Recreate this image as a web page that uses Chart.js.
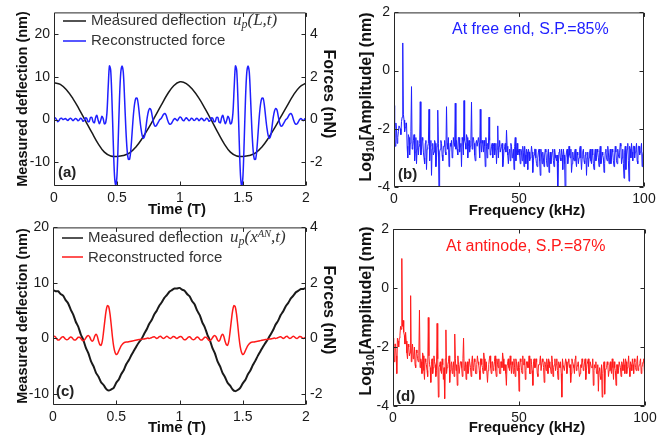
<!DOCTYPE html>
<html><head><meta charset="utf-8">
<script src="https://cdn.jsdelivr.net/npm/chart.js@4"></script>
<style>
body{margin:0;background:#fff}
#wrap{position:relative;width:667px;height:442px;overflow:hidden;background:#fff}
canvas{position:absolute}
</style></head><body>
<div id="wrap">
<canvas id="ca" width="340" height="222" style="left:0;top:0"></canvas>
<canvas id="cb" width="327" height="222" style="left:340px;top:0"></canvas>
<canvas id="cc" width="340" height="227" style="left:0;top:215px"></canvas>
<canvas id="cd" width="327" height="227" style="left:340px;top:215px"></canvas>
</div>
<script>
// ---------- DATA ----------
const timeFine = [
0,0.01,0.02,0.03,0.04,0.05,0.06,0.07,0.08,0.09,
0.1,0.11,0.12,0.13,0.14,0.15,0.16,0.17,0.18,0.19,
0.2,0.21,0.22,0.23,0.24,0.25,0.26,0.27,0.28,0.29,
0.3,0.31,0.32,0.33,0.34,0.35,0.36,0.37,0.38,0.39,
0.4,0.41,0.42,0.43,0.44,0.45,0.46,0.47,0.48,0.49,
0.5,0.51,0.52,0.53,0.54,0.55,0.56,0.57,0.58,0.59,
0.6,0.61,0.62,0.63,0.64,0.65,0.66,0.67,0.68,0.69,
0.7,0.71,0.72,0.73,0.74,0.75,0.76,0.77,0.78,0.79,
0.8,0.81,0.82,0.83,0.84,0.85,0.86,0.87,0.88,0.89,
0.9,0.91,0.92,0.93,0.94,0.95,0.96,0.97,0.98,0.99,
1,1.01,1.02,1.03,1.04,1.05,1.06,1.07,1.08,1.09,
1.1,1.11,1.12,1.13,1.14,1.15,1.16,1.17,1.18,1.19,
1.2,1.21,1.22,1.23,1.24,1.25,1.26,1.27,1.28,1.29,
1.3,1.31,1.32,1.33,1.34,1.35,1.36,1.37,1.38,1.39,
1.4,1.41,1.42,1.43,1.44,1.45,1.46,1.47,1.48,1.49,
1.5,1.51,1.52,1.53,1.54,1.55,1.56,1.57,1.58,1.59,
1.6,1.61,1.62,1.63,1.64,1.65,1.66,1.67,1.68,1.69,
1.7,1.71,1.72,1.73,1.74,1.75,1.76,1.77,1.78,1.79,
1.8,1.81,1.82,1.83,1.84,1.85,1.86,1.87,1.88,1.89,
1.9,1.91,1.92,1.93,1.94,1.95,1.96,1.97,1.98,1.99,
2];
const timeMid = [
0,0.02,0.04,0.06,0.08,0.1,0.12,0.14,0.16,0.18,
0.2,0.22,0.24,0.26,0.28,0.3,0.32,0.34,0.36,0.38,
0.4,0.42,0.44,0.46,0.48,0.5,0.52,0.54,0.56,0.58,
0.6,0.62,0.64,0.66,0.68,0.7,0.72,0.74,0.76,0.78,
0.8,0.82,0.84,0.86,0.88,0.9,0.92,0.94,0.96,0.98,
1,1.02,1.04,1.06,1.08,1.1,1.12,1.14,1.16,1.18,
1.2,1.22,1.24,1.26,1.28,1.3,1.32,1.34,1.36,1.38,
1.4,1.42,1.44,1.46,1.48,1.5,1.52,1.54,1.56,1.58,
1.6,1.62,1.64,1.66,1.68,1.7,1.72,1.74,1.76,1.78,
1.8,1.82,1.84,1.86,1.88,1.9,1.92,1.94,1.96,1.98,
2];
const timeCoarse = [
0,0.05,0.1,0.15,0.2,0.25,0.3,0.35,0.4,0.45,
0.5,0.55,0.6,0.65,0.7,0.75,0.8,0.85,0.9,0.95,
1,1.05,1.1,1.15,1.2,1.25,1.3,1.35,1.4,1.45,
1.5,1.55,1.6,1.65,1.7,1.75,1.8,1.85,1.9,1.95,
2];
const freqKHz = [
0,0.5,1,1.5,2,2.5,3,3.5,4,4.5,
5,5.5,6,6.5,7,7.5,8,8.5,9,9.5,
10,10.5,11,11.5,12,12.5,13,13.5,14,14.5,
15,15.5,16,16.5,17,17.5,18,18.5,19,19.5,
20,20.5,21,21.5,22,22.5,23,23.5,24,24.5,
25,25.5,26,26.5,27,27.5,28,28.5,29,29.5,
30,30.5,31,31.5,32,32.5,33,33.5,34,34.5,
35,35.5,36,36.5,37,37.5,38,38.5,39,39.5,
40,40.5,41,41.5,42,42.5,43,43.5,44,44.5,
45,45.5,46,46.5,47,47.5,48,48.5,49,49.5,
50,50.5,51,51.5,52,52.5,53,53.5,54,54.5,
55,55.5,56,56.5,57,57.5,58,58.5,59,59.5,
60,60.5,61,61.5,62,62.5,63,63.5,64,64.5,
65,65.5,66,66.5,67,67.5,68,68.5,69,69.5,
70,70.5,71,71.5,72,72.5,73,73.5,74,74.5,
75,75.5,76,76.5,77,77.5,78,78.5,79,79.5,
80,80.5,81,81.5,82,82.5,83,83.5,84,84.5,
85,85.5,86,86.5,87,87.5,88,88.5,89,89.5,
90,90.5,91,91.5,92,92.5,93,93.5,94,94.5,
95,95.5,96,96.5,97,97.5,98,98.5,99,99.5,
100];
const freqKHzMid = [
0.25,0.75,1.25,1.75,2.25,2.75,3.25,3.75,4.25,4.75,
5.25,5.75,6.25,6.75,7.25,7.75,8.25,8.75,9.25,9.75,
10.25,10.75,11.25,11.75,12.25,12.75,13.25,13.75,14.25,14.75,
15.25,15.75,16.25,16.75,17.25,17.75,18.25,18.75,19.25,19.75,
20.25,20.75,21.25,21.75,22.25,22.75,23.25,23.75,24.25,24.75,
25.25,25.75,26.25,26.75,27.25,27.75,28.25,28.75,29.25,29.75,
30.25,30.75,31.25,31.75,32.25,32.75,33.25,33.75,34.25,34.75,
35.25,35.75,36.25,36.75,37.25,37.75,38.25,38.75,39.25,39.75,
40.25,40.75,41.25,41.75,42.25,42.75,43.25,43.75,44.25,44.75,
45.25,45.75,46.25,46.75,47.25,47.75,48.25,48.75,49.25,49.75,
50.25,50.75,51.25,51.75,52.25,52.75,53.25,53.75,54.25,54.75,
55.25,55.75,56.25,56.75,57.25,57.75,58.25,58.75,59.25,59.75,
60.25,60.75,61.25,61.75,62.25,62.75,63.25,63.75,64.25,64.75,
65.25,65.75,66.25,66.75,67.25,67.75,68.25,68.75,69.25,69.75,
70.25,70.75,71.25,71.75,72.25,72.75,73.25,73.75,74.25,74.75,
75.25,75.75,76.25,76.75,77.25,77.75,78.25,78.75,79.25,79.75,
80.25,80.75,81.25,81.75,82.25,82.75,83.25,83.75,84.25,84.75,
85.25,85.75,86.25,86.75,87.25,87.75,88.25,88.75,89.25,89.75,
90.25,90.75,91.25,91.75,92.25,92.75,93.25,93.75,94.25,94.75,
95.25,95.75,96.25,96.75,97.25,97.75,98.25,98.75,99.25,99.75];

// (a) deflection at free end (nm) on timeCoarse
const deflectionFreeEnd = [
8.6,8.2,6.9,4.9,2.4,-0.3,-3,-5.6,-7.6,-8.5,
-8.6,-8.4,-7.8,-6.4,-4.4,-2,0.6,3.3,5.9,7.9,
8.8,8.4,7,5,2.5,-0.2,-3,-5.6,-7.6,-8.5,
-8.6,-8.4,-7.8,-6.4,-4.4,-2,0.6,3.2,5.7,7.6,
8.5];
// (a) reconstructed force (nN) on timeFine
const forceFreeEnd = [
0.05,0.08,0,-0.1,-0.05,0.05,0.06,0,0.02,0.05,
0,-0.04,0.02,0.06,0.02,-0.05,0,0.05,0.02,-0.06,
-0.02,0.06,0.03,-0.08,-0.04,0.08,0.05,-0.1,-0.08,0.1,
0.1,-0.1,-0.15,0.08,0.2,-0.02,-0.2,-0.05,0.15,0.05,
-0.2,-0.15,0.3,1.5,2.5,2.3,0.9,-1,-2.6,-3.1,
-2.6,-0.9,1,2.2,2.5,2.2,1,-0.4,-1.4,-1.85,
-1.85,-1.4,-0.6,0.2,0.75,1,1,0.65,0.1,-0.4,
-0.75,-0.88,-0.75,-0.35,0.1,0.4,0.52,0.45,0.15,-0.15,
-0.3,-0.3,-0.2,-0.1,0,0.05,0.15,0.25,0.28,0.2,
0,-0.15,-0.22,-0.2,-0.1,0,0.05,0,-0.05,0.05,
0.12,0.08,-0.02,-0.06,0.02,0.08,0.03,-0.05,-0.02,0.06,
0.04,-0.04,-0.02,0.05,0.04,-0.05,0,0.06,0.02,-0.06,
-0.02,0.06,0.03,-0.08,-0.04,0.08,0.05,-0.1,-0.08,0.1,
0.1,-0.12,-0.15,0.08,0.2,-0.02,-0.2,-0.05,0.15,0.05,
-0.2,-0.15,0.3,1.5,2.5,2.3,0.9,-1,-2.6,-3.15,
-2.6,-0.9,1,2.2,2.5,2.2,1,-0.4,-1.4,-1.85,
-1.85,-1.4,-0.6,0.2,0.75,1,1,0.65,0.1,-0.4,
-0.75,-0.88,-0.75,-0.35,0.1,0.4,0.52,0.45,0.15,-0.15,
-0.3,-0.3,-0.2,-0.1,0,0.05,0.15,0.25,0.28,0.2,
0,-0.15,-0.22,-0.2,-0.1,0,0.05,0,-0.05,0.03,
0.05];
// (c) deflection at antinode (nm) on timeMid
const deflectionAntinode = [
8.7,8.5,8.5,8,7.7,6.9,6.3,5.2,4.3,3,
2.1,0.7,-0.3,-1.7,-2.7,-4.1,-5,-6.2,-6.9,-7.9,
-8.4,-9.1,-9.4,-9.2,-8.9,-8,-7.4,-6.4,-5.7,-4.6,
-3.9,-3,-2.2,-1.4,-0.7,-0.1,0.8,1.6,2.6,3.3,
4.3,5,5.9,6.5,7.3,7.8,8.4,8.7,9,9,
9.1,8.8,8.6,8,7.6,6.7,6.1,5,4.2,2.9,
2,0.7,-0.3,-1.7,-2.7,-4.1,-5,-6.2,-7,-8,
-8.5,-9.2,-9.5,-9.3,-8.9,-8.1,-7.5,-6.5,-5.8,-4.8,
-4,-3.1,-2.3,-1.5,-0.8,-0.1,0.7,1.5,2.5,3.2,
4.2,4.9,5.8,6.4,7.2,7.7,8.3,8.6,8.9,8.9,
9.1];
// (c) reconstructed force (nN) on timeFine
const forceAntinode = [
0.05,0.08,0.05,-0.02,-0.06,-0.05,0,0.05,0.06,0.02,
-0.03,-0.05,-0.03,0.02,0.05,0.03,-0.03,-0.06,-0.05,0,
0.04,0.04,0,-0.06,-0.08,-0.05,0.02,0.08,0.1,0.05,
-0.05,-0.1,-0.05,0.08,0.15,0.08,-0.1,-0.22,-0.25,-0.1,
0.25,0.65,1,1.18,1.15,0.9,0.5,0.05,-0.3,-0.5,
-0.58,-0.55,-0.45,-0.35,-0.26,-0.2,-0.16,-0.14,-0.13,-0.13,
-0.12,-0.11,-0.1,-0.09,-0.08,-0.07,-0.06,-0.05,-0.04,-0.04,
-0.03,-0.02,-0.02,-0.01,0,0.01,0,0.01,0.03,0.05,
0.06,0.03,0,0.02,0.06,0.08,0.04,0,0.01,0.05,
0.08,0.05,0.01,0,0.03,0.07,0.06,0.02,0,0.03,
0.06,0.07,0.04,-0.02,-0.05,-0.04,0,0.05,0.06,0.02,
-0.03,-0.05,-0.03,0.02,0.05,0.03,-0.03,-0.06,-0.05,0,
0.04,0.04,0,-0.06,-0.08,-0.05,0.02,0.08,0.1,0.05,
-0.05,-0.1,-0.05,0.08,0.15,0.08,-0.1,-0.22,-0.25,-0.1,
0.25,0.65,1,1.18,1.15,0.9,0.5,0.05,-0.3,-0.5,
-0.58,-0.55,-0.45,-0.35,-0.26,-0.2,-0.16,-0.14,-0.13,-0.13,
-0.12,-0.11,-0.1,-0.09,-0.08,-0.07,-0.06,-0.05,-0.04,-0.04,
-0.03,-0.02,-0.02,-0.01,0,0.01,0,0.01,0.03,0.05,
0.06,0.03,0,0.02,0.06,0.08,0.04,0,0.01,0.05,
0.08,0.05,0.01,0,0.03,0.07,0.06,0.02,0,0.03,
0.04];
// (b) log10 amplitude spectrum at free end, on freqKHz and freqKHzMid
const logAmpFreeEnd = [
-1.2,-2.6,-2,-2.3,-1.9,-2,-1.75,0.95,-1.7,-1.95,
-1.8,-3,-2.3,-2.5,-0.55,-2.6,-2.2,-2.8,-3.2,-2.4,
-2.6,-1.07,-2.7,-2.4,-3,-2.5,-3.4,-2.6,-1.33,-2.6,
-3.6,-2.5,-2.8,-2.5,-3,-1.36,-4.3,-2.7,-2.5,-3.1,
-2.6,-2.8,-1.24,-2.7,-3.3,-2.5,-2.4,-2.9,-2.5,-1.12,
-2.4,-2.9,-2.3,-2.6,-3.3,-2.4,-1.03,-2.5,-2.2,-3,
-2.4,-2.6,-1.08,-2.3,-2.5,-3.1,-2.4,-2.6,-2.5,-1.33,
-2.8,-2.5,-2.4,-3.3,-2.6,-2.5,-1.6,-2.9,-2.6,-3,
-2.5,-2.7,-3.2,-1.9,-2.6,-2.8,-2.6,-3.3,-2.7,-2.5,
-2.05,-2.9,-2.8,-3.1,-2.6,-2.9,-3.4,-2.3,-2.8,-2.9,
-2.7,-3.2,-2.8,-2.6,-3.3,-2.9,-2.7,-3.4,-2.8,-3,
-2.6,-3.5,-2.9,-2.7,-3.2,-3,-2.7,-3.6,-2.9,-2.8,
-3.3,-2.7,-3.1,-2.9,-3.5,-2.8,-3,-2.7,-3.3,-2.9,
-3.1,-4.3,-2.8,-3,-2.7,-3.4,-2.9,-4.3,-2.8,-3.2,
-2.6,-3,-3.5,-2.8,-3.1,-2.7,-3.3,-2.9,-3,-2.6,
-3.4,-2.8,-3.1,-2.9,-3.6,-2.8,-3,-2.7,-3.2,-2.9,
-3.4,-2.7,-3,-2.8,-3.3,-2.6,-3.1,-2.9,-3.5,-2.8,
-3,-2.6,-3.2,-2.7,-3,-2.8,-3.3,-2.6,-3.1,-2.7,
-3,-2.5,-3.2,-2.7,-3.7,-2.6,-2.9,-2.5,-3.8,-2.7,
-2.5,-3.1,-2.6,-2.8,-2.5,-3.2,-2.6,-2.8,-2.5,-2.9,
-3.6];
const logAmpFreeEndMid = [
-2.3,-1.8,-2.5,-2.1,-1.9,-2.2,-1.6,-1.5,-2.1,-1.8,
-2.6,-2.2,-2.9,-2.1,-2.7,-2.4,-3.1,-2.3,-2.7,-2.9,
-2.5,-2.9,-2.3,-2.8,-3.2,-2.4,-2.7,-2.5,-3.1,-2.4,
-2.7,-2.9,-2.4,-3.3,-2.6,-2.5,-2.8,-2.4,-2.9,-2.6,
-2.4,-2.9,-2.5,-2.3,-2.8,-2.6,-3,-2.3,-2.6,-2.7,
-2.7,-2.3,-2.8,-2.5,-2.3,-2.9,-2.4,-2.7,-2.3,-2.6,
-2.8,-2.4,-2.7,-2.3,-2.9,-2.5,-2.6,-2.3,-3,-2.5,
-2.4,-2.8,-2.6,-2.3,-3,-2.7,-2.4,-2.8,-2.5,-2.6,
-2.9,-2.5,-2.7,-3,-2.4,-2.8,-2.5,-3.1,-2.6,-2.8,
-2.6,-3.2,-2.7,-2.5,-3,-2.7,-2.6,-3.1,-2.5,-2.8,
-2.9,-2.7,-3.1,-2.8,-2.6,-3.2,-2.8,-2.7,-3.1,-2.9,
-2.8,-3.1,-2.7,-3,-3.3,-2.8,-3.1,-2.7,-3.2,-3,
-2.9,-2.8,-3.3,-2.7,-3,-3.2,-2.8,-3.1,-2.7,-3,
-2.9,-3.2,-2.7,-3.1,-2.9,-2.7,-3.2,-3,-2.7,-3,
-2.9,-2.7,-3.2,-3,-2.8,-3.1,-2.8,-3.2,-2.7,-3,
-3,-2.7,-3.2,-2.8,-3,-3.3,-2.8,-3.1,-2.7,-3.2,
-2.9,-3.1,-2.7,-3,-2.8,-3.2,-2.8,-3,-3.2,-2.7,
-3.1,-2.8,-3,-3.2,-2.7,-3.1,-2.9,-2.8,-3.2,-2.9,
-2.8,-2.6,-3,-3.2,-2.8,-3.4,-2.7,-3.1,-2.6,-3,
-2.8,-2.6,-3,-2.7,-3.1,-2.6,-2.9,-2.7,-3.3,-2.8];
// (d) log10 amplitude spectrum at antinode, on freqKHz and freqKHzMid
const logAmpAntinode = [
-1.7,-2.5,-1.9,-2.9,-1.8,-1.7,-1.3,1,-1.1,-1.6,
-1.5,-2.2,-1.9,-2.3,-0.26,-2.1,-2.4,-2,-2.7,-2.2,
-2.5,-0.75,-2.4,-2.9,-2.3,-3.1,-2.5,-2.8,-1,-2.6,
-3.2,-2.4,-2.7,-2.5,-3,-1.2,-3.7,-2.6,-2.8,-2.4,
-3.1,-3.75,-1.42,-2.7,-2.5,-3.2,-2.6,-2.9,-2.5,-1.56,
-2.8,-3.3,-2.6,-2.9,-2.5,-3,-1.7,-2.7,-3.1,-2.5,
-2.8,-2.4,-3,-2.3,-2.7,-2.5,-2.9,-2.3,-2.6,-3.1,
-2.4,-2.7,-2.2,-2.8,-2.5,-3.2,-2.6,-2.3,-2.9,-2.5,
-2.7,-2.3,-3,-2.6,-2.4,-2.9,-2.5,-2.2,-2.8,-2.6,
-3.3,-2.5,-2.7,-2.3,-2.9,-2.6,-2.4,-3,-2.5,-2.7,
-3.5,-2.4,-2.8,-2.3,-2.6,-3.1,-2.5,-2.7,-2.3,-2.9,
-2.6,-3.3,-2.4,-2.7,-2.5,-3,-2.6,-2.3,-2.8,-2.5,
-3.2,-2.6,-2.4,-2.9,-2.5,-2.7,-2.3,-3,-2.6,-2.8,
-2.4,-3.1,-2.6,-2.5,-3.7,-2.6,-2.8,-2.4,-2.9,-2.5,
-2.7,-3.2,-2.4,-2.6,-2.9,-2.3,-2.7,-2.5,-3,-2.6,
-2.4,-2.8,-2.5,-3.1,-2.6,-2.4,-2.9,-2.5,-2.7,-3.3,
-2.6,-2.5,-2.9,-3.5,-2.7,-3.1,-3.7,-2.6,-3.6,-2.8,
-2.5,-3,-2.6,-2.8,-2.4,-3.1,-2.7,-3.3,-2.6,-2.8,
-2.5,-3,-2.6,-2.4,-2.9,-2.5,-2.7,-2.3,-3,-2.6,
-2.4,-2.9,-2.5,-2.8,-2.3,-2.7,-2.5,-2.9,-2.6,-2.4,
-3];
const logAmpAntinodeMid = [
-2.1,-1.9,-2.3,-1.7,-2,-1.6,-1.4,-1.3,-1.5,-1.9,
-1.8,-2.4,-2,-2.2,-2.5,-1.9,-2.3,-2.6,-2.1,-2.4,
-2.3,-2.7,-2.5,-2.2,-2.8,-2.4,-2.6,-3,-2.3,-2.7,
-2.5,-2.9,-2.3,-2.6,-2.8,-2.4,-2.7,-2.5,-2.9,-2.6,
-2.7,-2.4,-2.9,-2.6,-2.3,-2.8,-2.5,-2.7,-3,-2.4,
-2.6,-2.3,-2.9,-2.5,-2.7,-2.4,-2.8,-2.5,-2.6,-2.9,
-2.4,-2.7,-2.5,-2.8,-2.4,-2.9,-2.6,-2.5,-2.8,-2.4,
-2.6,-2.9,-2.4,-2.7,-2.5,-2.8,-2.4,-2.7,-2.5,-2.8,
-2.5,-2.8,-2.4,-2.7,-2.9,-2.5,-2.7,-2.4,-2.6,-2.9,
-2.6,-2.4,-2.8,-2.6,-2.5,-2.9,-2.7,-2.4,-2.8,-2.5,
-2.7,-2.5,-2.9,-2.6,-2.4,-2.8,-2.5,-2.7,-2.9,-2.4,
-2.8,-2.5,-2.7,-2.4,-2.9,-2.6,-2.5,-2.8,-2.4,-2.7,
-2.5,-2.8,-2.6,-2.4,-2.7,-2.9,-2.5,-2.7,-2.4,-2.6,
-2.8,-2.5,-2.7,-2.9,-2.4,-2.6,-2.8,-2.5,-2.7,-2.4,
-2.6,-2.9,-2.5,-2.7,-2.4,-2.8,-2.6,-2.5,-2.9,-2.7,
-2.5,-2.7,-2.4,-2.8,-2.6,-2.9,-2.5,-2.7,-2.4,-2.8,
-2.7,-2.9,-2.6,-2.8,-3,-2.6,-2.9,-2.5,-2.8,-2.7,
-2.6,-2.8,-2.5,-2.9,-2.7,-2.5,-2.8,-2.6,-2.9,-2.5,
-2.7,-2.5,-2.8,-2.6,-2.4,-2.9,-2.6,-2.7,-2.5,-2.8,
-2.6,-2.4,-2.7,-2.5,-2.8,-2.6,-2.4,-2.7,-2.5,-2.8];

// tick labels
const timeTicks = [0, 0.5, 1, 1.5, 2];
const deflTicks = [-10, 0, 10, 20];
const forceTicks = [-2, 0, 2, 4];
const freqTicks = [0, 50, 100];
const logAmpTicks = [-4, -2, 0, 2];

// text
const legendDefl = 'Measured deflection';
const legendForce = 'Reconstructed force';
const noteB = 'At free end, S.P.=85%';
const noteD = 'At antinode, S.P.=87%';

// ---------- DRAWING ----------
const FS = '"Liberation Sans", Arial, Helvetica, sans-serif';
const FSER = '"Liberation Serif", "Times New Roman", serif';
const BLUE = '#1f1fff', RED = '#ff1a1a', BLACK = '#1a1a1a', AX = '#262626';
Chart.defaults.font.family = FS;

const pts = (xs, ys) => xs.map((x, i) => ({x, y: ys[i]}));
const merged = (x1, y1, x2, y2) => pts(x1, y1).concat(pts(x2, y2)).sort((a, b) => a.x - b.x);

function drawRich(ctx, t) {
  ctx.save();
  ctx.translate(t.x, t.y);
  if (t.rot) ctx.rotate(t.rot);
  ctx.textBaseline = 'middle';
  let total = 0;
  t.parts.forEach(p => { ctx.font = p.f; p.w = ctx.measureText(p.t).width; total += p.w; });
  let cx = t.align === 'left' ? 0 : -total / 2;
  t.parts.forEach(p => {
    ctx.font = p.f; ctx.fillStyle = p.c || t.c || '#111';
    ctx.fillText(p.t, cx, p.dy || 0); cx += p.w;
  });
  ctx.restore();
}

function decoPlugin(o) {
  return {
    id: 'deco',
    afterDraw(chart) {
      const ctx = chart.ctx, a = chart.chartArea;
      const L = a.left + 0.5, R = a.right - 0.5, T = a.top + 0.5, B = a.bottom - 0.5;
      ctx.save();
      ctx.strokeStyle = AX; ctx.lineWidth = 1;
      ctx.beginPath();
      ctx.rect(L, T, R - L, B - T);
      const tl = 4;
      const xs = chart.scales.x, ys = chart.scales.y, y2 = chart.scales.y2;
      xs.ticks.forEach(t => {
        const px = Math.round(xs.getPixelForValue(t.value)) + 0.5;
        ctx.moveTo(px, B); ctx.lineTo(px, B - tl);
        ctx.moveTo(px, T); ctx.lineTo(px, T + tl);
      });
      ys.ticks.forEach(t => {
        const py = Math.round(ys.getPixelForValue(t.value)) + 0.5;
        ctx.moveTo(L, py); ctx.lineTo(L + tl, py);
        if (!y2) { ctx.moveTo(R, py); ctx.lineTo(R - tl, py); }
      });
      if (y2) y2.ticks.forEach(t => {
        const py = Math.round(y2.getPixelForValue(t.value)) + 0.5;
        ctx.moveTo(R, py); ctx.lineTo(R - tl, py);
      });
      ctx.stroke();
      (o.lines || []).forEach(l => {
        ctx.beginPath(); ctx.strokeStyle = l.c; ctx.lineWidth = 1.5;
        ctx.moveTo(l.x1, l.y); ctx.lineTo(l.x2, l.y); ctx.stroke();
      });
      ctx.restore();
      (o.texts || []).forEach(t => drawRich(ctx, t));
    }
  };
}

function axis(pos, min, max, ticksArr, size, isX) {
  return {
    type: 'linear', position: pos, min, max,
    afterFit: s => { if (isX) s.height = size; else s.width = size; },
    afterBuildTicks: s => { s.ticks = ticksArr.map(v => ({value: v})); },
    grid: {display: false, drawTicks: false, tickLength: 0}, border: {display: false},
    ticks: {autoSkip: false, maxRotation: 0, padding: 4, color: '#1a1a1a',
            font: {size: 14}, callback: v => String(v)}
  };
}

function build(id, o) {
  const scales = {
    x: axis('bottom', o.xmin, o.xmax, o.xticks, o.xh, true),
    y: axis('left', o.ymin, o.ymax, o.yticks, o.yw, false)
  };
  if (o.y2) scales.y2 = axis('right', o.y2.min, o.y2.max, o.y2.ticks, o.y2.w, false);
  new Chart(document.getElementById(id), {
    type: 'line',
    data: {datasets: o.datasets},
    options: {
      responsive: false, animation: false, devicePixelRatio: 1,
      layout: {padding: o.pad},
      scales,
      plugins: {legend: {display: false}, tooltip: {enabled: false}}
    },
    plugins: [decoPlugin(o)]
  });
}

const ds = (data, color, w, tension, axisId, order) => ({
  data, borderColor: color, borderWidth: w, pointRadius: 0, tension,
  fill: false, yAxisID: axisId || 'y', order: order || 0
});

const titleDefl = (x, y) => ({x, y, rot: -Math.PI / 2, parts: [{t: 'Measured deflection (nm)', f: 'bold 14.5px ' + FS}]});
const titleForce = (x, y) => ({x, y, rot: Math.PI / 2, parts: [{t: 'Forces (nN)', f: 'bold 16px ' + FS}]});
const titleLog = (x, y) => ({x, y, rot: -Math.PI / 2, parts: [
  {t: 'Log', f: 'bold 16px ' + FS}, {t: '10', f: 'bold 10.5px ' + FS, dy: 4},
  {t: '[Amplitude] (nm)', f: 'bold 16px ' + FS}]});
const plain = (txt, x, y, f, c, align) => ({x, y, align, c, parts: [{t: txt, f}]});

// (a)
build('ca', {
  xmin: 0, xmax: 2, xticks: timeTicks, xh: 36,
  ymin: -15.5, ymax: 25, yticks: deflTicks, yw: 54,
  y2: {min: -3.1, max: 5, ticks: forceTicks, w: 34},
  pad: {top: 12},
  datasets: [
    ds(pts(timeFine, forceFreeEnd), BLUE, 1.5, 0.3, 'y2', 0),
    ds(pts(timeCoarse, deflectionFreeEnd), BLACK, 1.5, 0.4, 'y', 1)
  ],
  lines: [{x1: 63, x2: 86, y: 21, c: BLACK}, {x1: 63, x2: 86, y: 41, c: BLUE}],
  texts: [
    titleDefl(23, 99), titleForce(328, 94),
    plain('Time (T)', 177, 210, 'bold 15px ' + FS, '#111'),
    plain('(a)', 58, 173, 'bold 15px ' + FS, '#222', 'left'),
    plain(legendDefl, 91, 21, '15px ' + FS, '#333', 'left'),
    {x: 233, y: 21, align: 'left', c: '#333', parts: [
      {t: 'u', f: 'italic 17px ' + FSER}, {t: 'p', f: 'italic 12px ' + FSER, dy: 4},
      {t: '(L,t)', f: 'italic 17px ' + FSER}]},
    plain(legendForce, 91, 41, '15px ' + FS, '#333', 'left')
  ]
});

// (b)
build('cb', {
  xmin: 0, xmax: 100, xticks: freqTicks, xh: 35,
  ymin: -4, ymax: 2, yticks: logAmpTicks, yw: 54,
  pad: {top: 11, right: 23},
  datasets: [ds(merged(freqKHz, logAmpFreeEnd, freqKHzMid, logAmpFreeEndMid), BLUE, 1, 0)],
  texts: [
    titleLog(27, 97),
    plain('Frequency (kHz)', 187, 211, 'bold 15px ' + FS, '#111'),
    plain('(b)', 58, 175, 'bold 15px ' + FS, '#222', 'left'),
    plain(noteB, 112, 30, '16px ' + FS, BLUE, 'left')
  ]
});

// (c)
build('cc', {
  xmin: 0, xmax: 2, xticks: timeTicks, xh: 37,
  ymin: -12, ymax: 20, yticks: deflTicks, yw: 53,
  y2: {min: -2.4, max: 4, ticks: forceTicks, w: 34},
  pad: {top: 12},
  datasets: [
    ds(pts(timeFine, forceAntinode), RED, 1.5, 0.3, 'y2', 0),
    ds(pts(timeMid, deflectionAntinode), BLACK, 2, 0.2, 'y', 1)
  ],
  lines: [{x1: 62, x2: 83, y: 23, c: BLACK}, {x1: 62, x2: 83, y: 42, c: RED}],
  texts: [
    titleDefl(23, 101), titleForce(328, 95),
    plain('Time (T)', 177, 213, 'bold 15px ' + FS, '#111'),
    plain('(c)', 56, 177, 'bold 15px ' + FS, '#222', 'left'),
    plain(legendDefl, 88, 23, '15px ' + FS, '#333', 'left'),
    {x: 230, y: 23, align: 'left', c: '#333', parts: [
      {t: 'u', f: 'italic 17px ' + FSER}, {t: 'p', f: 'italic 12px ' + FSER, dy: 4},
      {t: '(x', f: 'italic 17px ' + FSER}, {t: 'AN', f: 'italic 10.5px ' + FSER, dy: -4},
      {t: ',t)', f: 'italic 17px ' + FSER}]},
    plain(legendForce, 88, 43, '15px ' + FS, '#333', 'left')
  ]
});

// (d)
build('cd', {
  xmin: 0, xmax: 100, xticks: freqTicks, xh: 36,
  ymin: -4, ymax: 2, yticks: logAmpTicks, yw: 53,
  pad: {top: 14, right: 22},
  datasets: [ds(merged(freqKHz, logAmpAntinode, freqKHzMid, logAmpAntinodeMid), RED, 1, 0)],
  texts: [
    titleLog(27, 96),
    plain('Frequency (kHz)', 187, 213, 'bold 15px ' + FS, '#111'),
    plain('(d)', 56, 182, 'bold 15px ' + FS, '#222', 'left'),
    plain(noteD, 106, 32, '16px ' + FS, RED, 'left')
  ]
});
</script>
</body></html>
